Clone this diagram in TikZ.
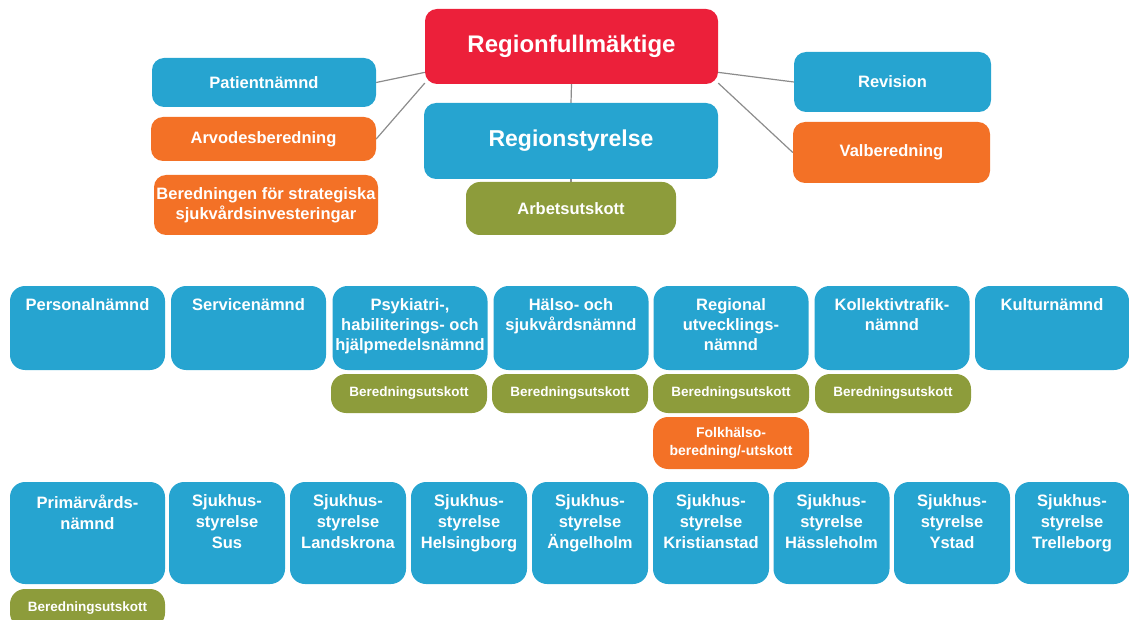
\documentclass[tikz,border=0pt]{standalone}
\usepackage{fontspec}
\setmainfont{Liberation Sans}
\usetikzlibrary{backgrounds}
\definecolor{cblue}{RGB}{38,164,208}
\definecolor{cred}{RGB}{236,32,58}
\definecolor{corange}{RGB}{243,113,38}
\definecolor{colive}{RGB}{141,156,59}
\definecolor{cline}{RGB}{140,140,140}
\tikzset{
  box/.style={rounded corners=12pt, text=white, align=center, inner sep=0pt,
    font=\bfseries\fontsize{16.5}{20}\selectfont},
  bluebox/.style={box, fill=cblue},
  orangebox/.style={box, fill=corange},
  olivebox/.style={box, fill=colive, rounded corners=15pt, font=\bfseries\fontsize{13.5}{16}\selectfont},
  rowbox/.style={box, fill=cblue, rounded corners=15pt},
  toptext/.style={text=white, align=center, inner sep=0pt, anchor=north, yshift=-13pt,
    font=\bfseries\fontsize{16.5}{20}\selectfont},
  toptextb/.style={toptext, font=\bfseries\fontsize{16.5}{21}\selectfont},
  conn/.style={draw=cline, line width=1.2pt},
}
\begin{document}
\begin{tikzpicture}[x=1pt,y=-1pt]
\useasboundingbox (0,0) rectangle (1129,620);
% top
\node[box, fill=cred, minimum width=293pt, minimum height=75pt, font=\bfseries\fontsize{24}{28}\selectfont] (rf) at (571.5,46.5) {Regionfullmäktige};
\node[bluebox, minimum width=294pt, minimum height=76pt, font=\bfseries\fontsize{23}{28}\selectfont] (rs) at (571,141) {Regionstyrelse};
\node[olivebox, rounded corners=14pt, minimum width=210pt, minimum height=53pt, font=\bfseries\fontsize{16.5}{20}\selectfont] (au) at (571,208.5) {Arbetsutskott};
\node[bluebox, minimum width=224pt, minimum height=49pt] (pat) at (264,82.5) {Patientnämnd};
\node[orangebox, minimum width=225pt, minimum height=44pt] (arv) at (263.5,139) {Arvodesberedning};
\node[orangebox, minimum width=224pt, minimum height=60pt] (ber) at (266,205) {Beredningen för strategiska\\sjukvårdsinvesteringar};
\node[bluebox, minimum width=197pt, minimum height=60pt] (rev) at (892.5,82) {Revision};
\node[orangebox, minimum width=197pt, minimum height=61pt] (val) at (891.5,152.5) {Valberedning};
\begin{scope}[on background layer]
\draw[conn] (pat.east) -- (rf.190);
\draw[conn] (arv.east) -- (rf.194);
\draw[conn] (rev.west) -- (rf.350);
\draw[conn] (val.west) -- (rf.346);
\draw[conn] (rf.south) -- (rs.north);
\draw[conn] (rs.south) -- (au.north);
\end{scope}
% row 1
\foreach \n/\x/\w/\t in {pers/87.5/155/Personalnämnd, serv/248.5/155/Servicenämnd,
  psyk/410/155/{Psykiatri-,\\habiliterings- och\\hjälpmedelsnämnd},
  hals/571/155/{Hälso- och\\sjukvårdsnämnd},
  reg/731/155/{Regional\\utvecklings-\\nämnd},
  koll/892/155/{Kollektivtrafik-\\nämnd},
  kult/1052/154/Kulturnämnd}{
  \node[rowbox, minimum width=\w pt, minimum height=84pt] (\n) at (\x,328) {};
  \node[toptext] (\n t) at (\n.north) {\t};
}
\foreach \n/\x in {bu1/409, bu2/570, bu3/731, bu4/893}{
  \node[olivebox, minimum width=156pt, minimum height=39pt] (\n) at (\x,393.5) {Beredningsutskott};
}
\node[orangebox, rounded corners=15pt, minimum width=156pt, minimum height=52pt, font=\bfseries\fontsize{14}{18}\selectfont] (folk) at (731,443) {Folkhälso-\\beredning/-utskott};
% row 3
\foreach \n/\x/\w/\t in {prim/87.5/155/{Primärvårds-\\nämnd},
  sus/227/116/{Sjukhus-\\styrelse\\Sus},
  land/348/116/{Sjukhus-\\styrelse\\Landskrona},
  hels/469/116/{Sjukhus-\\styrelse\\Helsingborg},
  ang/590/116/{Sjukhus-\\styrelse\\Ängelholm},
  kris/711/116/{Sjukhus-\\styrelse\\Kristianstad},
  hass/831.5/116/{Sjukhus-\\styrelse\\Hässleholm},
  ysta/952/116/{Sjukhus-\\styrelse\\Ystad},
  trel/1072/114/{Sjukhus-\\styrelse\\Trelleborg}}{
  \node[rowbox, minimum width=\w pt, minimum height=102pt] (\n) at (\x,533) {};
  \node[toptextb] (\n t) at (\n.north) {\t};
}
\node[olivebox, minimum width=155pt, minimum height=39pt] (bu5) at (87.5,608.5) {Beredningsutskott};
\end{tikzpicture}
\end{document}
